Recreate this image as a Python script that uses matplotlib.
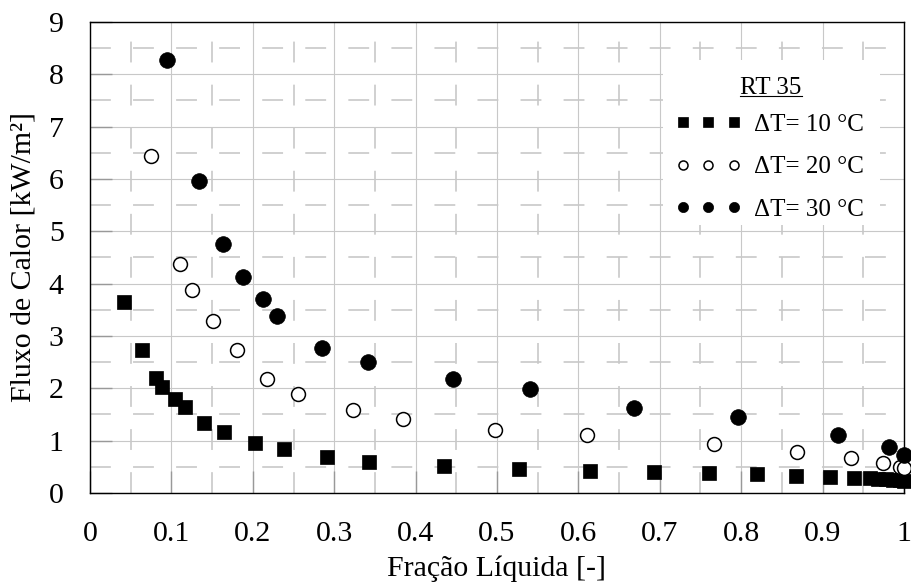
import matplotlib
matplotlib.use('Agg')
import matplotlib.pyplot as plt
from matplotlib.lines import Line2D
from matplotlib.patches import Rectangle
from matplotlib.ticker import MultipleLocator

# Data (RT 35)
x_dt10 = [0.042, 0.0635, 0.081, 0.089, 0.104, 0.117, 0.140, 0.165, 0.203, 0.238, 0.291, 0.343,
          0.435, 0.527, 0.614, 0.693, 0.761, 0.819, 0.867, 0.909, 0.939, 0.958, 0.968, 0.978,
          0.987, 0.995, 1.0]
y_dt10 = [3.64, 2.73, 2.19, 2.03, 1.80, 1.64, 1.33, 1.17, 0.95, 0.85, 0.69, 0.60,
          0.52, 0.46, 0.42, 0.40, 0.38, 0.36, 0.33, 0.30, 0.29, 0.28, 0.27, 0.26,
          0.25, 0.24, 0.23]

x_dt20 = [0.075, 0.111, 0.125, 0.151, 0.181, 0.218, 0.256, 0.323, 0.384, 0.497, 0.610,
          0.767, 0.868, 0.935, 0.974, 0.995, 1.0]
y_dt20 = [6.43, 4.38, 3.88, 3.29, 2.73, 2.18, 1.89, 1.59, 1.41, 1.20, 1.10,
          0.93, 0.79, 0.66, 0.58, 0.50, 0.48]

x_dt30 = [0.094, 0.134, 0.163, 0.188, 0.213, 0.230, 0.285, 0.341, 0.446, 0.541, 0.668,
          0.796, 0.919, 0.981, 1.0]
y_dt30 = [8.27, 5.96, 4.76, 4.12, 3.71, 3.38, 2.78, 2.50, 2.17, 1.98, 1.62,
          1.45, 1.11, 0.885, 0.72]

labels = ['ΔT= 10 °C', 'ΔT= 20 °C', 'ΔT= 30 °C']
legend_title = 'RT 35'
x_ticks = [0, 0.1, 0.2, 0.3, 0.4, 0.5, 0.6, 0.7, 0.8, 0.9, 1]
x_ticklabels = ['0', '0.1', '0.2', '0.3', '0.4', '0.5', '0.6', '0.7', '0.8', '0.9', '1']
y_ticks = list(range(0, 10))

plt.rcParams['font.family'] = ['Liberation Serif', 'DejaVu Serif']
plt.rcParams['lines.scale_dashes'] = False

fig = plt.figure(figsize=(9.11, 5.86), dpi=100)
ax = fig.add_axes([0.0988, 0.1587, 0.8935, 0.8038])

ax.plot(x_dt10, y_dt10, linestyle='none', marker='s', ms=10.5, mfc='black', mec='black',
        mew=0.5, clip_on=False, zorder=3, label=labels[0])
ax.plot(x_dt20, y_dt20, linestyle='none', marker='o', ms=10, mfc='white', mec='black',
        mew=1.1, clip_on=False, zorder=3, label=labels[1])
ax.plot(x_dt30, y_dt30, linestyle='none', marker='o', ms=11.3, mfc='black', mec='black',
        mew=0.5, clip_on=False, zorder=3, label=labels[2])

ax.set_xlim(0, 1)
ax.set_ylim(0, 9)
ax.set_xticks(x_ticks)
ax.set_xticklabels(x_ticklabels)
ax.set_yticks(y_ticks)
ax.xaxis.set_minor_locator(MultipleLocator(0.05))
ax.yaxis.set_minor_locator(MultipleLocator(0.5))

# grid: solid major lines, long-dash minor lines
ax.set_axisbelow(True)
ax.grid(which='major', color='#c8c8c8', linewidth=0.8, linestyle='-')
ax.grid(which='minor', color='#c8c8c8', linewidth=1.2, linestyle=(0, (15, 16)))

ax.tick_params(which='major', direction='in', length=16, width=1, color='#999999',
               labelsize=21.5, top=False, right=False)
ax.tick_params(axis='x', which='major', pad=20)
ax.tick_params(axis='y', which='major', pad=19)
ax.tick_params(which='minor', length=0)
for s in ax.spines.values():
    s.set_color('black')
    s.set_linewidth(1.0)

ax.set_xlabel('Fração Líquida [-]', fontsize=21.5, labelpad=6)
ax.set_ylabel('Fluxo de Calor [kW/m²]', fontsize=21.5, labelpad=9)

# white box behind the legend block (hides the grid there)
ax.add_patch(Rectangle((0.704, 0.569), 0.266, 0.35, transform=ax.transAxes,
                       facecolor='white', edgecolor='none', zorder=2.5))

leg = ax.legend(loc='upper left', bbox_to_anchor=(0.719, 0.806), numpoints=3,
                markerscale=0.65, fontsize=18, frameon=False, borderpad=0,
                borderaxespad=0, handlelength=2.65, handletextpad=0.5,
                labelspacing=0.8)

title = ax.text(0.8366, 0.859, legend_title, transform=ax.transAxes, fontsize=18,
                ha='center', va='center', zorder=4)

# underline the legend title
fig.canvas.draw()
bb = title.get_window_extent().transformed(fig.transFigure.inverted())
fig.add_artist(Line2D([bb.x0, bb.x1], [bb.y0 + 0.005, bb.y0 + 0.005], color='black',
                      linewidth=0.8, transform=fig.transFigure, zorder=10))

plt.savefig('out.png', dpi=100)
